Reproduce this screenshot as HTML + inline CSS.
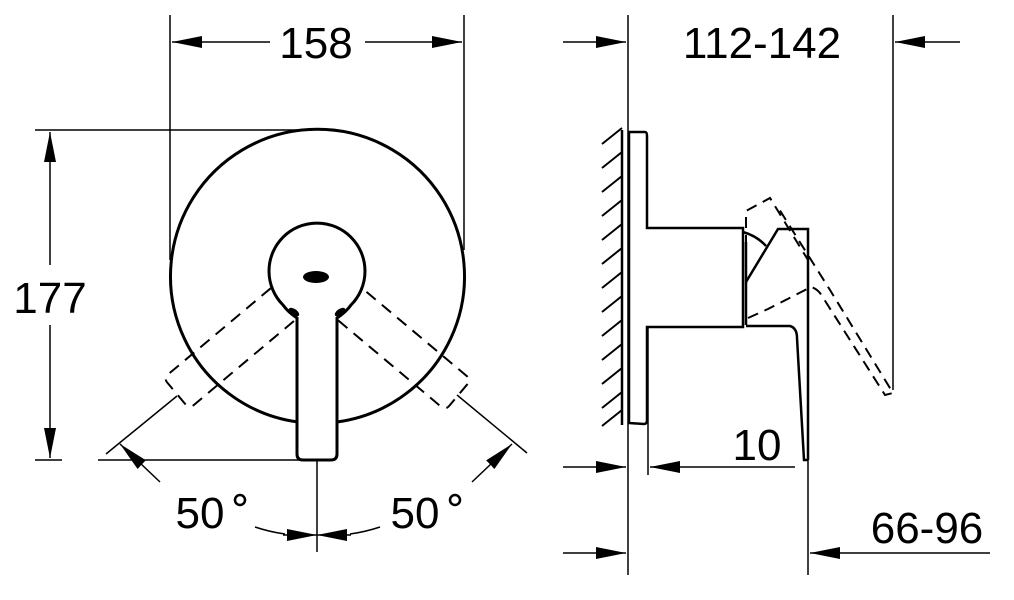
<!DOCTYPE html>
<html><head><style>html,body{margin:0;padding:0;background:#fff}svg{display:block}text{font-family:"Liberation Sans",sans-serif;fill:#000}</style></head>
<body>
<svg width="1014" height="600" viewBox="0 0 1014 600" xmlns="http://www.w3.org/2000/svg">
<defs>
<marker id="a" viewBox="0 0 30 12" refX="30" refY="6" markerWidth="30" markerHeight="12" markerUnits="userSpaceOnUse" orient="auto"><path d="M0,0 L30,6 L0,12 Z" fill="#000"/></marker>
</defs>
<g stroke="#000" fill="none" stroke-width="1.5">
<line x1="170" y1="15" x2="170" y2="260"/>
<line x1="464" y1="15" x2="464" y2="250"/>
<line x1="270" y1="42" x2="172" y2="42" marker-end="url(#a)"/>
<line x1="365" y1="42" x2="462" y2="42" marker-end="url(#a)"/>
<line x1="35" y1="130" x2="312" y2="130"/>
<line x1="35" y1="460" x2="62" y2="460"/>
<line x1="98" y1="460" x2="300" y2="460"/>
<line x1="50" y1="265" x2="50" y2="132" marker-end="url(#a)"/>
<line x1="50" y1="325" x2="50" y2="458" marker-end="url(#a)"/>
<path d="M298,422 A147,147 0 1 1 337,422" stroke-width="3"/>
<path d="M297,318 Q288,312 283,305 A48,48 0 1 1 351,305 Q346,312 337,318 L337,454 Q337,460 331,460 L303,460 Q297,460 297,454 Z" stroke-width="3"/>
<line x1="317" y1="460" x2="317" y2="552"/>
<g stroke-dasharray="12,8" stroke-width="2">
<path d="M297,320 L297,454 Q297,460 303,460 L331,460 Q337,460 337,454 L337,320" transform="rotate(50 318 276)"/>
<path d="M297,320 L297,454 Q297,460 303,460 L331,460 Q337,460 337,454 L337,320" transform="rotate(-50 318 276)"/>
</g>
<line x1="106" y1="454" x2="177" y2="396"/>
<line x1="527" y1="453" x2="457" y2="395"/>
<line x1="160" y1="482" x2="120" y2="444" marker-end="url(#a)"/>
<line x1="472" y1="482" x2="512" y2="444" marker-end="url(#a)"/>
<path d="M255,527 Q270,532 285,534"/>
<path d="M380,527 Q365,532 350,534"/>
<line x1="283" y1="535" x2="317" y2="535" marker-end="url(#a)"/>
<line x1="351" y1="535" x2="317" y2="535" marker-end="url(#a)"/>
</g>
<ellipse cx="316" cy="277" rx="13" ry="6" fill="#000"/>
<ellipse cx="294" cy="312" rx="6" ry="3" fill="#000" transform="rotate(35 294 312)"/>
<ellipse cx="340" cy="312" rx="6" ry="3" fill="#000" transform="rotate(-35 340 312)"/>
<g stroke="#000" fill="none" stroke-width="1.5">
<line x1="628" y1="15" x2="628" y2="575"/>
<line x1="893" y1="15" x2="893" y2="390"/>
<line x1="563" y1="42" x2="626" y2="42" marker-end="url(#a)"/>
<line x1="960" y1="42" x2="895" y2="42" marker-end="url(#a)"/>
<line x1="563" y1="467" x2="626" y2="467" marker-end="url(#a)"/>
<line x1="795" y1="467" x2="650" y2="467" marker-end="url(#a)"/>
<line x1="648" y1="327" x2="648" y2="475"/>
<line x1="563" y1="553" x2="626" y2="553" marker-end="url(#a)"/>
<line x1="990" y1="553" x2="810" y2="553" marker-end="url(#a)"/>
<line x1="808" y1="460" x2="808" y2="575"/>
<line x1="622" y1="130" x2="622" y2="425" stroke-width="2.5"/>
<path d="M602,144 L622,128 M602,168 L622,152 M602,192 L622,176 M602,216 L622,200 M602,240 L622,224 M602,264 L622,248 M602,288 L622,272 M602,312 L622,296 M602,336 L622,320 M602,360 L622,344 M602,384 L622,368 M602,408 L622,392 M602,426 L622,410" stroke-width="2"/>
</g>
<g stroke="#000" fill="none" stroke-width="2.5">
<path d="M629,423 L629,132 L645,132 Q647,132 647,136 L647,228 L743,228 L743,327 L647,327 L647,420 Q647,424 644,424 Z"/>
<line x1="746" y1="242" x2="746" y2="325"/>
<path d="M743,232 Q757,236 766,246"/>
<path d="M746,282 L778,229 L808,229 L808,460"/>
<path d="M746,326 L790,326 Q797,328 797,338 L804,460 L808,460"/>
</g>
<g stroke="#000" fill="none" stroke-width="2" stroke-dasharray="11,7">
<path d="M746,300 L746,211 L770,198 L808,260"/>
<path d="M748,318 L768,309 L811,287 Q818,289 822,296 L885,395 L893,393 L830,290 L779,209"/>
</g>
<text x="316" y="58" font-size="44" text-anchor="middle">158</text>
<rect x="15" y="272" width="75" height="50" fill="#fff"/>
<text x="50" y="313" font-size="44" text-anchor="middle">177</text>
<text x="200" y="528" font-size="44" text-anchor="middle">50</text>
<circle cx="240" cy="500" r="5" stroke="#000" stroke-width="2.5" fill="none"/>
<text x="415" y="528" font-size="44" text-anchor="middle">50</text>
<circle cx="455" cy="500" r="5" stroke="#000" stroke-width="2.5" fill="none"/>
<text x="762" y="58" font-size="44" text-anchor="middle">112-142</text>
<text x="757" y="460" font-size="44" text-anchor="middle">10</text>
<text x="927" y="543" font-size="44" text-anchor="middle">66-96</text>
</svg>
</body></html>
